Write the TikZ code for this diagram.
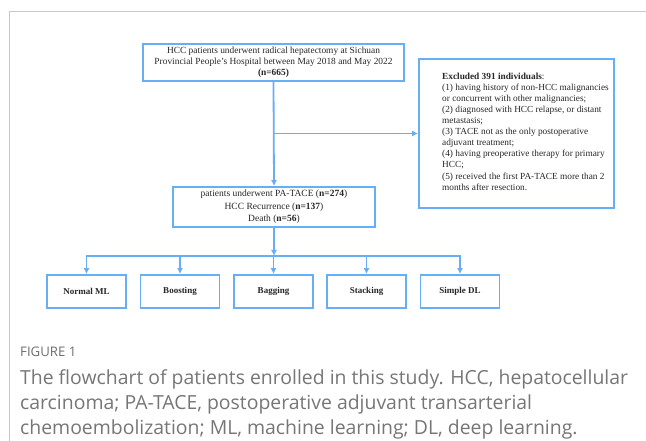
\documentclass[tikz,border=0pt]{standalone}
\usepackage{fontspec}
\setmainfont{Liberation Serif}
\newfontfamily\capfont{Open Sans}
\usetikzlibrary{arrows.meta}
\definecolor{flowblue}{RGB}{104,174,247}
\definecolor{framegray}{RGB}{200,200,200}
\definecolor{captxt}{RGB}{118,118,118}
\begin{document}
\begin{tikzpicture}[x=1bp,y=-1bp,
  box/.style={draw=flowblue,line width=1.8bp,inner sep=0pt,align=center,font=\fontsize{9.4bp}{11bp}\selectfont,text=black!85},
  mlbox/.style={box,minimum width=79bp,minimum height=33bp,font=\fontsize{9bp}{11bp}\selectfont\bfseries},
  conn/.style={draw=flowblue,line width=1.8bp},
  arr/.style={conn,-{Latex[length=6bp,width=6bp]}},
  captext/.style={anchor=base west,inner sep=0pt,text=captxt}]
\useasboundingbox (0,0) rectangle (646,441);
% frame
\draw[framegray,line width=1bp] (9,441) -- (9,11.5) -- (646,11.5);
% boxes
\node[box,minimum width=261bp,minimum height=37bp] (top) at (273.5,62.5)
  {HCC patients underwent radical hepatectomy at Sichuan\\Provincial People's Hospital between May 2018 and May 2022\\\textbf{(n=665)}};
\node[box,minimum width=195bp,minimum height=149bp] (excl) at (516.5,133.5) {};
\node[anchor=north west,inner sep=0pt,align=left,text=black!85,font=\fontsize{9.3bp}{11.1bp}\selectfont] (excltxt) at (442,72.5)
  {\textbf{Excluded 391 individuals}:\\
   (1) having history of non-HCC malignancies\\
   or concurrent with other malignancies;\\
   (2) diagnosed with HCC relapse, or distant\\
   metastasis;\\
   (3) TACE not as the only postoperative\\
   adjuvant treatment;\\
   (4) having preoperative therapy for primary\\
   HCC;\\
   (5) received the first PA-TACE more than 2\\
   months after resection.};
\node[box,minimum width=202bp,minimum height=40bp,font=\fontsize{9.5bp}{12.5bp}\selectfont] (mid) at (274,207)
  {patients underwent PA-TACE (\textbf{n=274})\\HCC Recurrence (\textbf{n=137})\\Death (\textbf{n=56})};
\node[mlbox] (m1) at (86.5,291.5) {Normal ML};
\node[mlbox] (m2) at (180,291.5) {Boosting};
\node[mlbox] (m3) at (273.5,291.5) {Bagging};
\node[mlbox] (m4) at (366.5,291.5) {Stacking};
\node[mlbox] (m5) at (460,291.5) {Simple DL};
% connectors
\coordinate (j) at (top.south |- excl.west);
\draw[arr] (top.south) -- (mid.north);
\draw[arr] (j) -- (excl.west);
\coordinate (bus) at (274,256);
\coordinate (b1) at (m1.north |- bus);
\coordinate (b2) at (m2.north |- bus);
\coordinate (b3) at (m3.north |- bus);
\coordinate (b4) at (m4.north |- bus);
\coordinate (b5) at (m5.north |- bus);
\draw[conn,line cap=rect] (b1) -- (b5);
\draw[arr] (mid.south) -- (bus);
\foreach \i in {1,...,5} \draw[arr] (b\i) -- (m\i.north);
% caption
\node[captext,font=\capfont\fontsize{13.2bp}{15bp}\selectfont,text=captxt!92!black] (figlab) at (20,356) {FIGURE 1};
\node[captext,font=\capfont\fontsize{19.4bp}{24bp}\selectfont] (c1) at (20,384.5) {The flowchart of patients enrolled in this study. HCC, hepatocellular};
\node[captext,font=\capfont\fontsize{19.4bp}{24bp}\selectfont] (c2) at (20,409.5) {carcinoma; PA-TACE, postoperative adjuvant transarterial};
\node[captext,font=\capfont\fontsize{19.4bp}{24bp}\selectfont] (c3) at (20,434.5) {chemoembolization; ML, machine learning; DL, deep learning.};
\end{tikzpicture}
\end{document}
